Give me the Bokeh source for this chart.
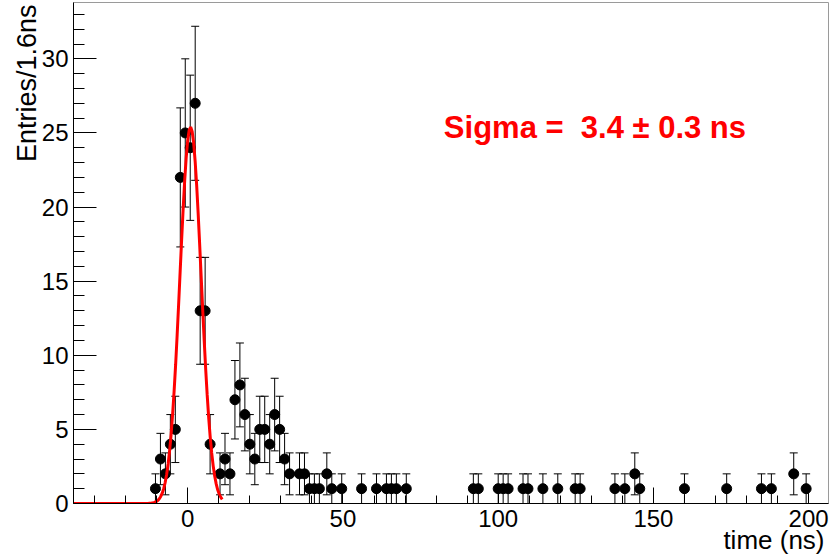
import numpy as np
from bokeh.plotting import figure
from bokeh.models import (Range1d, Label, Whisker, ColumnDataSource, TeeHead,
                          FixedTicker, Title)
from bokeh.embed import file_html
from bokeh.resources import INLINE

# ---- data ----
time_ns = [-10.4, -8.8, -7.2, -5.6, -4.0, -2.4, -0.8, 0.8, 2.4, 4.0, 5.6, 7.2,
           10.4, 12.0, 13.6, 15.2, 16.8, 18.4, 20.0, 21.6, 23.2, 24.8, 26.4,
           28.0, 29.6, 31.2, 32.8, 36.0, 37.6, 39.2, 40.8, 42.4, 44.8, 46.4,
           49.6, 56.0, 60.8, 64.0, 65.6, 67.2, 70.4, 92.0, 93.6, 100.0, 101.6,
           103.2, 108.0, 109.6, 114.4, 119.2, 124.8, 126.4, 137.6, 140.8,
           144.0, 145.6, 160.0, 173.6, 184.8, 188.0, 195.2, 199.2]
entries = [1, 3, 2, 4, 5, 22, 25, 24, 27, 13, 13, 4,
           2, 3, 2, 7, 8, 6, 4, 3, 5, 5, 4,
           6, 5, 3, 2, 2, 2, 1, 1, 1, 2, 1,
           1, 1, 1, 1, 1, 1, 1, 1, 1, 1, 1,
           1, 1, 1, 1, 1, 1, 1, 1, 1,
           2, 1, 1, 1, 1, 1, 2, 1]

# Gaussian fit parameters (from the fit drawn in the picture)
fit_amplitude = 25.4
fit_mean = 0.9
fit_sigma = 3.4
fit_xmin, fit_xmax = -36.8, 11.1
fit_npx = 100

x_ticks = [0, 50, 100, 150, 200]
x_minor = list(range(-30, 210, 10))
y_ticks = [0, 5, 10, 15, 20, 25, 30]
y_minor = list(range(0, 34))

sigma_text = "Sigma =\u00a0 3.4 \u00b1 0.3 ns"
x_title = "time (ns)"
y_title = "Entries/1.6ns"

FONT = "Liberation Sans"

# ---- figure ----
p = figure(width=830, height=559, output_backend="svg", toolbar_location=None,
           x_range=Range1d(-36.8, 206.4), y_range=Range1d(0, 33.8),
           min_border_left=73, min_border_right=2, min_border_top=2,
           min_border_bottom=56)
p.background_fill_color = "white"
p.border_fill_color = "white"
p.grid.visible = False
p.outline_line_color = "#9a9a9a"
p.outline_line_width = 1

for ax in (p.xaxis[0], p.yaxis[0]):
    ax.axis_line_color = "black"
    ax.axis_line_width = 1
    ax.major_tick_line_color = "black"
    ax.minor_tick_line_color = "black"
    ax.major_tick_out = 0
    ax.minor_tick_out = 0
    ax.major_label_text_font = FONT
    ax.major_label_text_font_size = "24px"
    ax.major_label_text_color = "black"

p.xaxis.ticker = FixedTicker(ticks=x_ticks, minor_ticks=x_minor)
p.yaxis.ticker = FixedTicker(ticks=y_ticks, minor_ticks=y_minor)
p.xaxis.major_tick_in = 16
p.xaxis.minor_tick_in = 8
p.yaxis.major_tick_in = 23
p.yaxis.minor_tick_in = 11
p.xaxis.major_label_standoff = 6
p.yaxis.major_label_standoff = 5

# ---- axis titles at the far ends of the axes ----
p.add_layout(Title(text=x_title, align="right", vertical_align="middle",
                   text_font=FONT, text_font_size="26px",
                   text_font_style="normal", text_color="black",
                   standoff=-11, offset=4), "below")
p.add_layout(Title(text=y_title, align="right", vertical_align="middle",
                   text_font=FONT, text_font_size="27px",
                   text_font_style="normal", text_color="black",
                   standoff=-9, offset=2), "left")

# ---- error bars and points ----
err = np.sqrt(np.array(entries, dtype=float))
src = ColumnDataSource(dict(x=time_ns, y=entries,
                            lower=np.array(entries) - err,
                            upper=np.array(entries) + err))
wh = Whisker(base="x", lower="lower", upper="upper", source=src,
             dimension="height", line_color="black", line_width=1,
             upper_head=TeeHead(size=8, line_color="black", line_width=1),
             lower_head=TeeHead(size=8, line_color="black", line_width=1))
p.add_layout(wh)
p.scatter("x", "y", source=src, size=10, fill_color="black",
          line_color="black")

# ---- fit curve ----
fx = np.linspace(fit_xmin, fit_xmax, fit_npx)
fy = fit_amplitude * np.exp(-0.5 * ((fx - fit_mean) / fit_sigma) ** 2)
p.line(fx, fy, line_color="#ff0000", line_width=3)

# ---- fit result text ----
p.add_layout(Label(x=82.5, y=25.35, text=sigma_text, text_color="#ff0000",
                   text_font=FONT, text_font_style="bold",
                   text_font_size="31px", text_baseline="alphabetic"))

open("out.html", "w").write(file_html(p, INLINE))
